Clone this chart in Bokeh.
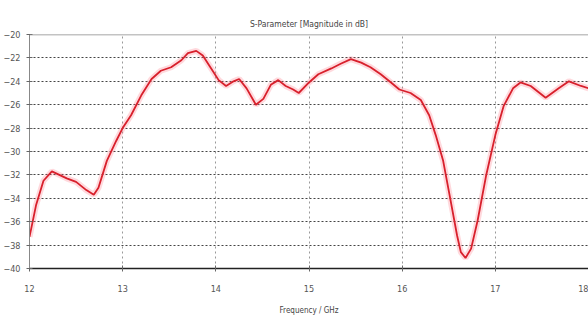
from bokeh.plotting import figure
from bokeh.embed import file_html
from bokeh.resources import INLINE
from bokeh.models import FixedTicker, Range1d, Span

freq_ghz = [12.0, 12.07, 12.15, 12.24, 12.32, 12.40, 12.50, 12.61, 12.69, 12.74, 12.83, 12.93,
            13.0, 13.09, 13.20, 13.31, 13.41, 13.52, 13.63, 13.70, 13.79, 13.86, 13.95, 14.03,
            14.11, 14.19, 14.25, 14.33, 14.43, 14.51, 14.59, 14.67, 14.75, 14.83, 14.89, 15.0,
            15.10, 15.24, 15.34, 15.45, 15.56, 15.66, 15.77, 15.88, 15.97, 16.09, 16.20, 16.29,
            16.36, 16.44, 16.52, 16.59, 16.63, 16.68, 16.74, 16.81, 16.90, 17.0, 17.09, 17.19,
            17.27, 17.38, 17.54, 17.68, 17.79, 17.92, 18.0]
s_db = [-37.3, -34.6, -32.5, -31.7, -32.0, -32.3, -32.6, -33.3, -33.7, -33.1, -30.8, -29.1,
        -28.0, -26.9, -25.2, -23.8, -23.1, -22.8, -22.2, -21.6, -21.4, -21.8, -22.9, -23.9,
        -24.4, -24.0, -23.8, -24.6, -26.0, -25.5, -24.3, -23.9, -24.4, -24.7, -25.0, -24.1,
        -23.4, -22.9, -22.5, -22.1, -22.4, -22.8, -23.4, -24.1, -24.7, -25.0, -25.6, -26.9,
        -28.6, -30.8, -34.2, -37.2, -38.6, -39.1, -38.3, -35.9, -32.1, -28.6, -26.1, -24.6,
        -24.1, -24.4, -25.4, -24.6, -24.0, -24.4, -24.6]
x_ticks = [12, 13, 14, 15, 16, 17, 18]
y_ticks = [-20, -22, -24, -26, -28, -30, -32, -34, -36, -38, -40]

FONT = "Liberation Sans Narrow, DejaVu Sans Condensed, sans-serif"

p = figure(width=588, height=319, output_backend="svg", toolbar_location=None,
           x_range=Range1d(12, 18), y_range=Range1d(-40, -20),
           min_border_left=29, min_border_right=0, min_border_top=34, min_border_bottom=51,
           title="S-Parameter [Magnitude in dB]")
p.title.align = "center"
p.title.text_font = FONT
p.title.text_font_size = "8.5px"
p.title.text_font_style = "normal"
p.title.text_color = "#444444"
p.title.offset = 0
p.title.standoff = 11

p.outline_line_color = None
p.background_fill_color = "white"

# grid
p.xgrid.ticker = FixedTicker(ticks=x_ticks)
p.ygrid.ticker = FixedTicker(ticks=y_ticks)
p.ygrid.grid_line_color = "#444444"
p.ygrid.grid_line_dash = "2 2"
p.ygrid.grid_line_width = 1
p.xgrid.grid_line_color = "#999999"
p.xgrid.grid_line_dash = "2 3"
p.xgrid.grid_line_width = 1

# axes
p.xaxis.ticker = FixedTicker(ticks=x_ticks)
p.yaxis.ticker = FixedTicker(ticks=y_ticks)
p.xaxis.axis_label = "Frequency / GHz"
for ax in (p.xaxis, p.yaxis):
    ax.major_label_text_font = FONT
    ax.major_label_text_font_size = "9px"
    ax.major_label_text_color = "#555555"
    ax.minor_tick_line_color = None
    ax.major_tick_line_color = "#666666"
    ax.major_tick_in = 3
    ax.major_tick_out = 3
p.xaxis.axis_line_color = "#222222"
p.xaxis.axis_line_width = 1.5
p.yaxis.axis_line_color = "#888888"
p.xaxis.major_label_standoff = 13
p.yaxis.major_label_standoff = 6
p.xaxis.axis_label_text_font = FONT
p.xaxis.axis_label_text_font_size = "8px"
p.xaxis.axis_label_text_font_style = "normal"
p.xaxis.axis_label_text_color = "#444444"
p.xaxis.axis_label_standoff = 11

top = Span(location=-20, dimension="width", line_color="#888888", line_width=1.5)
p.add_layout(top)

p.line(freq_ghz, s_db, line_color="#ff6677", line_alpha=0.25, line_width=6)
p.line(freq_ghz, s_db, line_color="#d8202c", line_width=1.8)

open("out.html", "w").write(file_html(p, INLINE))
